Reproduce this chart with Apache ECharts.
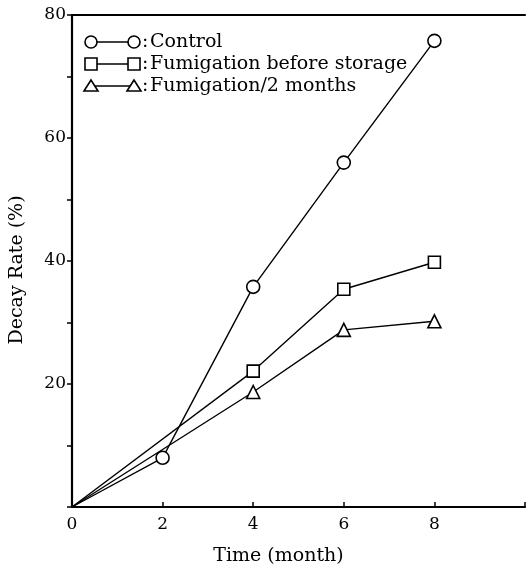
<!DOCTYPE html>
<html>
<head>
<meta charset="utf-8">
<script src="https://cdn.jsdelivr.net/npm/echarts@6/dist/echarts.min.js"></script>
<style>
  html, body { margin: 0; padding: 0; background: #fff; }
  #chart { width: 528px; height: 574px; }
</style>
</head>
<body>
<div id="chart"></div>
<script>
// data
const months = [0, 2, 4, 6, 8]
const controlValues = [0, 8, 35.8, 56, 75.8]
const beforeStorageMonths = [0, 4, 6, 8]
const beforeStorageValues = [0, 22.1, 35.4, 39.8]
const twoMonthsMonths = [0, 4, 6, 8]
const twoMonthsValues = [0, 18.7, 28.8, 30.2]
const seriesNames = ['Control', 'Fumigation before storage', 'Fumigation/2 months']
const yTickLabels = [20, 40, 60, 80]
const xTickLabels = [0, 2, 4, 6, 8]

const pair = (xs, ys) => xs.map((x, i) => [x, ys[i]])

const font = 'DejaVu Serif'
const symbols = ['circle', 'rect', 'triangle']
const symbolSizes = [13, 12, 13]

const chart = echarts.init(document.getElementById('chart'))

const makeSeries = (name, data, idx) => ({
  name,
  type: 'line',
  // no marker at the origin
  data: data.map(d => (d[0] === 0 ? { value: d, symbol: 'none' } : d)),
  symbol: symbols[idx],
  symbolSize: symbolSizes[idx],
  showSymbol: true,
  lineStyle: { color: '#000', width: 1.4 },
  itemStyle: { color: '#fff', borderColor: '#000', borderWidth: 1.6 },
  z: 3
})

// legend drawn as marker-line-marker rows
const legendRowY = [42, 64, 86]
const legendRows = []
seriesNames.forEach((name, i) => {
  const y = legendRowY[i]
  legendRows.push(
    { type: 'line', shape: { x1: 92, y1: y, x2: 133, y2: y }, style: { stroke: '#000', lineWidth: 1.4 } },
    { type: 'text', x: 142, y: y, style: { text: ':', font: '19px "' + font + '"', fill: '#000', textVerticalAlign: 'middle' } },
    { type: 'text', x: 150, y: y, style: { text: name, font: '19px "' + font + '"', fill: '#000', textVerticalAlign: 'middle' } }
  )
  ;[91, 134].forEach(cx => {
    let shape
    if (i === 0) shape = { type: 'circle', shape: { cx, cy: y, r: 6 } }
    else if (i === 1) shape = { type: 'rect', shape: { x: cx - 6, y: y - 6, width: 12, height: 12 } }
    else shape = { type: 'polygon', shape: { points: [[cx, y - 6], [cx - 7, y + 5], [cx + 7, y + 5]] } }
    shape.style = { fill: '#fff', stroke: '#000', lineWidth: 1.6 }
    shape.z = 10
    legendRows.push(shape)
  })
})

chart.setOption({
  backgroundColor: '#fff',
  animation: false,
  grid: { left: 68, right: 0, top: 15, bottom: 67 },
  xAxis: [
    {
      type: 'value',
      min: 0,
      max: 10,
      interval: 2,
      name: 'Time (month)',
      nameLocation: 'middle',
      nameGap: 40,
      nameTextStyle: { fontFamily: font, fontSize: 19, color: '#000', padding: [0, 40, 0, 0] },
      axisLine: { lineStyle: { color: '#000', width: 2.2 } },
      axisTick: { inside: true, length: 5, lineStyle: { color: '#000', width: 1.5 } },
      axisLabel: {
        fontFamily: font, fontSize: 17, color: '#000', margin: 9,
        formatter: v => (xTickLabels.includes(v) ? String(v) : '')
      },
      splitLine: { show: false }
    },
    {
      type: 'value',
      position: 'top',
      min: 0,
      max: 10,
      axisLine: { show: true, lineStyle: { color: '#000', width: 2.2 } },
      axisTick: { show: false },
      axisLabel: { show: false },
      splitLine: { show: false }
    }
  ],
  yAxis: {
    type: 'value',
    min: 0,
    max: 80,
    interval: 10,
    name: 'Decay Rate (%)',
    nameLocation: 'middle',
    nameGap: 45,
    nameTextStyle: { fontFamily: font, fontSize: 19, color: '#000', padding: [0, 18, 0, 0] },
    axisLine: { show: true, lineStyle: { color: '#000', width: 2.2 } },
    axisTick: { show: true, length: 5, lineStyle: { color: '#000', width: 1.5 } },
    axisLabel: {
      fontFamily: font, fontSize: 17, color: '#000', margin: 6,
      formatter: v => (yTickLabels.includes(v) ? String(v) : '')
    },
    splitLine: { show: false }
  },
  series: [
    makeSeries(seriesNames[0], pair(months, controlValues), 0),
    makeSeries(seriesNames[1], pair(beforeStorageMonths, beforeStorageValues), 1),
    makeSeries(seriesNames[2], pair(twoMonthsMonths, twoMonthsValues), 2)
  ],
  graphic: legendRows
})
</script>
</body>
</html>
